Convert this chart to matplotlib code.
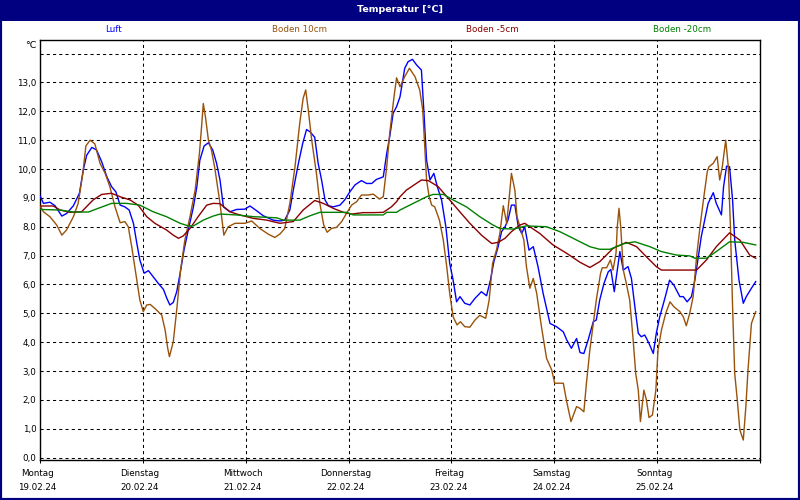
import matplotlib.pyplot as plt
from matplotlib.patches import Rectangle

# hours since Monday 19.02.24 00:00
luft_h = [0.0, 0.8, 2.3, 3.5, 5.1, 6.2, 7.8, 9.2, 10.1, 10.9, 12.1, 13.2, 14.4, 15.6, 16.7, 17.7,
          18.7, 19.8, 20.8, 21.8, 22.6, 23.3, 24.3, 25.3, 26.4, 27.6, 28.8, 29.6, 30.3, 31.1, 31.9,
          32.7, 33.6, 34.6, 35.8, 36.6, 37.3, 38.3, 39.3, 40.3, 41.2, 42.0, 42.8, 44.3, 45.9, 47.8,
          49.0, 50.5, 52.1, 54.4, 56.0, 57.1, 58.3, 59.1, 60.3, 61.3, 62.2, 63.0, 64.1, 64.9, 65.7,
          66.5, 67.3, 68.4, 70.0, 71.1, 72.3, 73.5, 75.0, 76.2, 77.4, 78.5, 80.1, 80.9, 81.6, 82.4,
          83.2, 84.0, 85.1, 85.9, 86.9, 87.9, 89.0, 89.6, 90.2, 91.0, 91.9, 92.7, 93.7, 94.7, 95.6,
          96.4, 97.2, 98.0, 99.1, 100.3, 101.5, 103.0, 104.2, 105.1, 105.9, 106.9, 107.7, 108.5,
          109.2, 110.0, 110.8, 111.6, 112.4, 113.1, 114.1, 115.1, 116.2, 117.4, 119.0, 120.5, 122.1,
          122.9, 124.0, 125.2, 126.0, 126.9, 127.9, 129.1, 129.8, 130.6, 131.6, 132.6, 133.2, 134.0,
          134.7, 135.3, 136.1, 137.2, 138.0, 138.8, 139.6, 140.3, 141.1, 142.1, 143.1, 143.8, 144.6,
          145.8, 146.9, 147.9, 149.3, 150.1, 151.0, 152.0, 152.8, 153.6, 154.3, 155.1, 155.9, 157.1,
          157.8, 159.0, 159.5, 160.2, 160.9, 161.6, 162.1, 163.1, 164.1, 164.8, 166.0, 167.0]
luft = [9.08, 8.81, 8.85, 8.73, 8.37, 8.46, 8.73, 9.16, 9.97, 10.48, 10.75, 10.66, 10.25, 9.73, 9.39, 9.21,
        8.75, 8.69, 8.58, 8.12, 7.42, 6.85, 6.39, 6.48, 6.27, 6.04, 5.83, 5.52, 5.29, 5.38, 5.75,
        6.39, 7.19, 7.89, 8.69, 9.39, 10.31, 10.80, 10.91, 10.66, 10.20, 9.62, 8.69, 8.52, 8.60, 8.61,
        8.72, 8.56, 8.38, 8.23, 8.20, 8.23, 8.58, 9.27, 10.20, 10.89, 11.37, 11.29, 11.10, 10.20, 9.62,
        8.93, 8.73, 8.69, 8.75, 8.93, 9.21, 9.45, 9.60, 9.50, 9.50, 9.64, 9.73, 10.54, 11.12, 11.93,
        12.16, 12.50, 13.49, 13.72, 13.80, 13.60, 13.43, 11.93, 10.31, 9.62, 9.85, 9.39, 8.93, 8.00, 6.73,
        6.15, 5.40, 5.58, 5.35, 5.29, 5.52, 5.75, 5.61, 6.15, 6.79, 7.31, 7.83, 8.00,
        8.23, 8.75, 8.75, 8.00, 7.77, 8.00, 7.19, 7.31, 6.62, 5.69, 4.65, 4.54, 4.36,
        4.08, 3.79, 4.13, 3.64, 3.61, 4.08, 4.71, 4.77, 5.46, 6.04, 6.44, 6.52, 5.75,
        6.50, 7.14, 6.50, 6.62, 6.21, 5.23, 4.31, 4.19, 4.25, 3.96, 3.61, 4.31, 4.88,
        5.52, 6.15, 5.98, 5.58, 5.58, 5.40, 5.58, 6.15, 6.96, 7.66, 8.23, 8.81, 9.18,
        8.81, 8.41, 9.39, 10.10, 10.08, 8.93, 7.54, 6.15, 5.35, 5.58, 5.87, 6.10]

b10_h = [0.0, 0.8, 2.3, 3.9, 5.1, 6.2, 7.8, 8.9, 10.0, 10.7, 11.7, 12.8, 14.0, 15.2, 16.3, 17.5,
         18.7, 19.8, 20.6, 21.4, 22.6, 23.3, 24.1, 24.9, 25.7, 26.8, 28.4, 29.2, 29.8, 30.2, 31.1,
         31.9, 32.8, 33.8, 35.0, 36.2, 37.2, 37.7, 38.1, 38.6, 39.3, 40.0, 40.8, 42.0, 42.9, 43.9,
         45.5, 47.8, 49.4, 51.3, 53.3, 54.8, 56.0, 57.1, 58.3, 59.5, 60.6, 61.4, 62.0, 62.6, 63.4,
         64.5, 65.3, 66.2, 67.0, 68.0, 69.2, 70.4, 71.5, 72.7, 73.9, 75.0, 76.6, 77.8, 79.2, 80.1,
         80.9, 81.6, 82.6, 83.2, 84.0, 85.1, 86.2, 87.5, 88.6, 89.3, 89.7, 90.2, 90.8, 91.4, 92.1,
         93.2, 94.1, 94.9, 95.6, 96.4, 97.3, 98.1, 99.1, 100.3, 101.5, 102.6, 104.0, 104.8, 105.6,
         106.5, 107.3, 108.1, 108.9, 109.5, 110.0, 110.8, 111.3, 112.0, 112.9, 113.5, 114.3, 115.1,
         115.9, 117.0, 118.2, 119.4, 120.1, 121.3, 122.1, 122.9, 123.9, 125.2, 126.0, 126.9, 127.5,
         128.3, 129.1, 129.8, 130.8, 131.2, 132.2, 133.1, 133.7, 134.4, 134.7, 135.1, 135.5, 136.1,
         136.8, 137.6, 138.4, 139.0, 139.6, 140.1, 140.9, 141.5, 142.1, 142.9, 143.7, 144.2, 145.0,
         146.0, 147.0, 147.9, 149.3, 150.1, 150.8, 151.6, 152.4, 153.2, 154.0, 154.9, 155.7, 156.1,
         157.1, 158.0, 158.6, 159.2, 160.0, 160.6, 161.1, 161.6, 162.1, 162.7, 163.3, 164.1, 164.7,
         165.2, 166.0, 167.0]
b10 = [8.73, 8.52, 8.35, 8.06, 7.71, 7.89, 8.35, 8.81, 9.85, 10.80, 11.00, 10.87, 10.20, 9.85, 9.39, 8.69,
       8.14, 8.18, 8.00, 7.31, 6.15, 5.46, 5.06, 5.29, 5.31, 5.17, 4.94, 4.42, 3.79, 3.50, 4.02,
       5.12, 6.50, 7.54, 8.35, 9.27, 10.54, 11.47, 12.27, 11.81, 11.00, 10.66, 10.02, 8.81, 7.71, 8.00,
       8.12, 8.12, 8.20, 7.94, 7.74, 7.63, 7.75, 7.94, 8.81, 10.08, 11.58, 12.45, 12.74, 12.05, 11.00,
       9.85, 8.81, 8.06, 7.81, 7.94, 7.98, 8.18, 8.46, 8.75, 8.87, 9.10, 9.10, 9.13, 8.96, 9.04,
       10.08, 11.24, 12.50, 13.16, 12.85, 13.20, 13.49, 13.20, 12.74, 12.05, 11.00, 9.62, 9.04, 8.75, 8.69,
       8.23, 7.54, 6.62, 5.69, 4.88, 4.60, 4.71, 4.54, 4.52, 4.77, 4.93, 4.83, 5.46, 6.73,
       7.19, 7.77, 8.73, 8.12, 9.04, 9.85, 9.27, 8.35, 8.00, 7.54, 6.62, 5.87, 6.21,
       5.69, 4.54, 3.44, 3.04, 2.58, 2.58, 2.58, 1.94, 1.25, 1.77, 1.71, 1.59, 2.58,
       3.73, 4.65, 5.46, 6.39, 6.58, 6.58, 6.85, 6.50, 7.08, 8.00, 8.64, 8.00, 6.50,
       6.04, 5.46, 4.08, 2.92, 2.34, 1.25, 2.34, 2.00, 1.39, 1.48, 2.34, 3.73, 4.42,
       5.00, 5.40, 5.23, 5.06, 4.88, 4.57, 5.00, 5.58, 6.96, 8.00, 9.04, 9.91, 10.08,
       10.20, 10.43, 9.62, 10.08, 11.00, 10.08, 8.00, 5.23, 2.92, 2.00, 0.96, 0.61, 1.77,
       3.04, 4.65, 5.06]

b5_h = [0.0, 3.1, 4.7, 7.0, 9.7, 12.4, 14.4, 16.7, 18.7, 21.0, 22.9, 24.9, 26.8, 29.5, 31.1, 32.3,
        33.4, 35.0, 36.9, 38.9, 40.4, 42.0, 44.3, 46.6, 49.8, 52.9, 56.0, 59.1, 61.4, 64.1, 66.1,
        68.4, 70.8, 72.7, 75.4, 77.8, 80.1, 82.0, 83.2, 84.0, 85.5, 87.5, 89.0, 90.6, 92.9, 95.3,
        97.6, 100.3, 103.0, 105.4, 106.9, 108.5, 110.0, 112.0, 113.1, 114.3, 116.6, 119.7, 122.9,
        126.0, 128.3, 130.6, 133.7, 136.8, 139.2, 141.5, 143.8, 145.0, 153.2, 155.5, 157.8, 160.9,
        163.3, 165.6, 167.0]
b5 = [8.72, 8.72, 8.58, 8.50, 8.52, 8.93, 9.12, 9.16, 9.04, 8.93, 8.75, 8.35, 8.12, 7.89, 7.71, 7.60,
      7.68, 7.94, 8.35, 8.75, 8.81, 8.80, 8.52, 8.41, 8.29, 8.23, 8.12, 8.18, 8.58, 8.91, 8.81,
      8.64, 8.50, 8.44, 8.49, 8.49, 8.50, 8.69, 8.87, 9.04, 9.27, 9.47, 9.62, 9.60, 9.39, 8.98,
      8.58, 8.12, 7.71, 7.42, 7.46, 7.60, 7.83, 8.06, 8.12, 8.00, 7.77, 7.37, 7.08,
      6.77, 6.59, 6.79, 7.25, 7.46, 7.31, 6.96, 6.62, 6.50, 6.50, 6.85, 7.31, 7.79,
      7.54, 7.02, 6.91]

b20_h = [0.0, 4.7, 7.8, 11.3, 13.6, 16.7, 20.2, 23.3, 26.4, 29.5, 32.7, 34.6, 35.8, 38.1, 40.4, 42.0,
         45.9, 49.8, 55.2, 56.8, 60.6, 63.0, 65.3, 71.5, 73.1, 80.1, 80.9, 83.2, 84.0, 87.1, 90.2,
         91.7, 94.1, 96.4, 99.5, 102.6, 105.7, 107.3, 110.4, 113.5, 118.2, 121.3, 124.4, 126.0,
         128.3, 130.6, 133.0, 136.1, 138.8, 142.3, 145.0, 148.5, 151.6, 152.8, 155.5, 157.8, 160.9,
         164.1, 167.0]
b20 = [8.60, 8.58, 8.51, 8.51, 8.64, 8.81, 8.81, 8.75, 8.52, 8.35, 8.12, 8.03, 8.03, 8.23, 8.37, 8.44,
       8.41, 8.35, 8.31, 8.23, 8.23, 8.38, 8.50, 8.50, 8.41, 8.41, 8.50, 8.50, 8.58, 8.81, 9.04,
       9.12, 9.12, 8.93, 8.69, 8.35, 8.06, 7.94, 7.92, 8.03, 8.00, 7.83, 7.60, 7.48,
       7.31, 7.22, 7.22, 7.41, 7.48, 7.31, 7.14, 7.02, 6.99, 6.91, 6.91, 7.14, 7.48,
       7.46, 7.37]

day_names = ['Montag', 'Dienstag', 'Mittwoch', 'Donnerstag', 'Freitag', 'Samstag', 'Sonntag']
day_dates = ['19.02.24', '20.02.24', '21.02.24', '22.02.24', '23.02.24', '24.02.24', '25.02.24']

series = [
    ('Luft', luft_h, luft, '#0000ff', 113),
    ('Boden 10cm', b10_h, b10, '#99520a', 300),
    ('Boden -5cm', b5_h, b5, '#8b0000', 492),
    ('Boden -20cm', b20_h, b20, '#008000', 682),
]

plt.rcParams['font.family'] = 'DejaVu Sans'
navy = '#000080'

fig = plt.figure(figsize=(8, 5), dpi=100)
fig.patch.set_facecolor('white')

# title bar + frame
fig.patches.append(Rectangle((0, 479 / 500), 1, 21 / 500, transform=fig.transFigure,
                             facecolor=navy, edgecolor='none', zorder=0))
fig.patches.append(Rectangle((0, 0), 1, 1, transform=fig.transFigure, fill=False,
                             edgecolor=navy, lw=3, zorder=5))
fig.text(0.5, 1 - 10 / 500, 'Temperatur [°C]', color='white', fontsize=6.8,
         fontweight='bold', ha='center', va='center')

ax = fig.add_axes([40 / 800, 40 / 500, 720 / 800, 420 / 500])

for name, xs, ys, color, lx in series:
    ax.plot(xs, ys, color=color, lw=1.0, zorder=3)
    fig.text(lx / 800, 1 - 30 / 500, name, color=color, fontsize=6.3, ha='center', va='center')

ax.set_xlim(0, 168)
ax.set_ylim(-0.08, 14.47)

yt = list(range(15))
ax.set_yticks(yt)
ax.set_yticklabels([f'{v:.1f}'.replace('.', ',') if v < 14 else '' for v in yt])
ax.set_xticks([24 * i for i in range(8)])
ax.set_xticklabels([])
ax.tick_params(axis='y', length=0, pad=2.5, labelsize=6.3)
ax.tick_params(axis='x', length=2.5, width=0.75, direction='out')

ax.grid(True, color='black', lw=0.75, linestyle=(0, (3, 3)), zorder=1)
ax.set_axisbelow(True)
for sp in ax.spines.values():
    sp.set_linewidth(1.0)
    sp.set_color('black')

for i, (n, d) in enumerate(zip(day_names, day_dates)):
    ax.annotate(n, xy=(24 * i, 0), xycoords=('data', 'axes fraction'),
                xytext=(-2, -13 * 0.72), textcoords='offset points',
                ha='center', va='center', fontsize=6.3)
    ax.annotate(d, xy=(24 * i, 0), xycoords=('data', 'axes fraction'),
                xytext=(-2, -28 * 0.72), textcoords='offset points',
                ha='center', va='center', fontsize=6.3)

fig.text(31 / 800, 1 - 45 / 500, '°C', fontsize=6.8, ha='center', va='center')

fig.savefig('out.png', dpi=100)
